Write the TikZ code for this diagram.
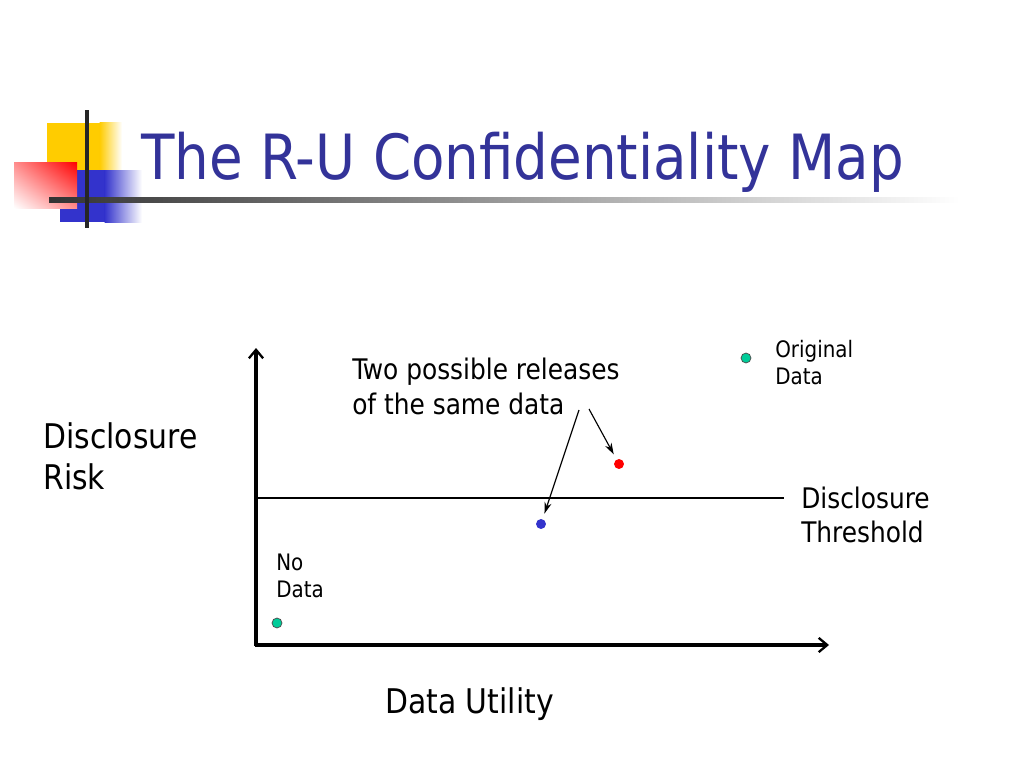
\documentclass[tikz,border=0pt]{standalone}
\usepackage{fontspec}
\setmainfont{DejaVu Sans Condensed}[FakeStretch=0.975]
\usetikzlibrary{arrows.meta,shadings}
\definecolor{titleblue}{RGB}{51,51,153}
\definecolor{dotgreen}{RGB}{0,204,153}
\definecolor{dotblue}{RGB}{51,51,204}
\definecolor{dotred}{RGB}{255,0,0}
\definecolor{logoyellow}{RGB}{255,204,0}
\definecolor{logored}{RGB}{255,0,0}
\definecolor{logoblue}{RGB}{51,51,204}
\tikzset{
  lbl/.style={inner sep=0pt, anchor=base west, align=left},
  axis/.style={line width=2.2bp, -{Straight Barb[length=6bp,width=10bp,line width=1.6bp]}},
  pointer/.style={line width=0.8bp, -{Stealth[length=8bp,width=5bp]}, shorten >=4bp},
  dotg/.style={circle, draw=black!70, line width=0.5bp, fill=dotgreen, minimum size=7bp, inner sep=0pt},
  dotc/.style={circle, minimum size=7bp, inner sep=0pt},
}
\begin{document}
\begin{tikzpicture}[x=0.703125bp, y=-0.703125bp]
\useasboundingbox (0,0) rectangle (1024,768);
% logo
\fill[logoyellow] (47,123) rectangle (100,172);
\shade[left color=logoyellow, right color=white] (99.5,123) rectangle (122,172);
\fill[logoblue] (60,170) rectangle (105,222);
\shade[left color=logoblue, right color=white] (104.5,170) rectangle (142,222);
\shade[upper right=logored, upper left=logored!45, lower right=logored!45, lower left=white] (14,162) rectangle (77,208);
\shade[left color=black!80, right color=white] (49,197.5) rectangle (960,202.5);
\fill[black!85] (85,110) rectangle (89,228);
% title
\node[lbl, text=titleblue, font=\fontsize{44}{50}\selectfont] (title) at (141,179) {The R-U Confidentiality Map};
% axes
\coordinate (origin) at (256,645);
\coordinate (ytop) at (256,348);
\coordinate (xend) at (829,645);
\draw[axis] (256,646) -- (ytop);
\draw[axis] (255,645) -- (xend);
\coordinate (thl) at (256,498);
\coordinate (thr) at (784,498);
\draw[line width=0.8bp] (thl) -- (thr);
% dots
\node[dotg] (orig) at (746,358) {};
\node[dotg] (nodata) at (277,623) {};
\node[dotc, fill=dotred] (red) at (619,464) {};
\node[dotc, fill=dotblue] (blue) at (541,524) {};
% labels (anchored at the baseline of the last line)
\node[lbl, font=\fontsize{20}{24}\selectfont] (two) at (352,414) {Two possible releases\\of the same data};
\node[lbl, font=\fontsize{24}{28.5}\selectfont] (dr) at (43,489) {Disclosure\\Risk};
\node[lbl, font=\fontsize{20}{23.5}\selectfont] (dt) at (801,542) {Disclosure\\Threshold};
\node[lbl, font=\fontsize{16}{19}\selectfont] (od) at (775,384) {Original\\Data};
\node[lbl, font=\fontsize{16}{19}\selectfont] (nd) at (276,597) {No\\Data};
\node[lbl, font=\fontsize{24}{28.5}\selectfont] (du) at (385,713) {Data Utility};
% pointers
\coordinate (s1) at (579,410);
\coordinate (s2) at (589,409);
\draw[pointer] (s1) -- (blue);
\draw[pointer] (s2) -- (red);
\end{tikzpicture}
\end{document}
